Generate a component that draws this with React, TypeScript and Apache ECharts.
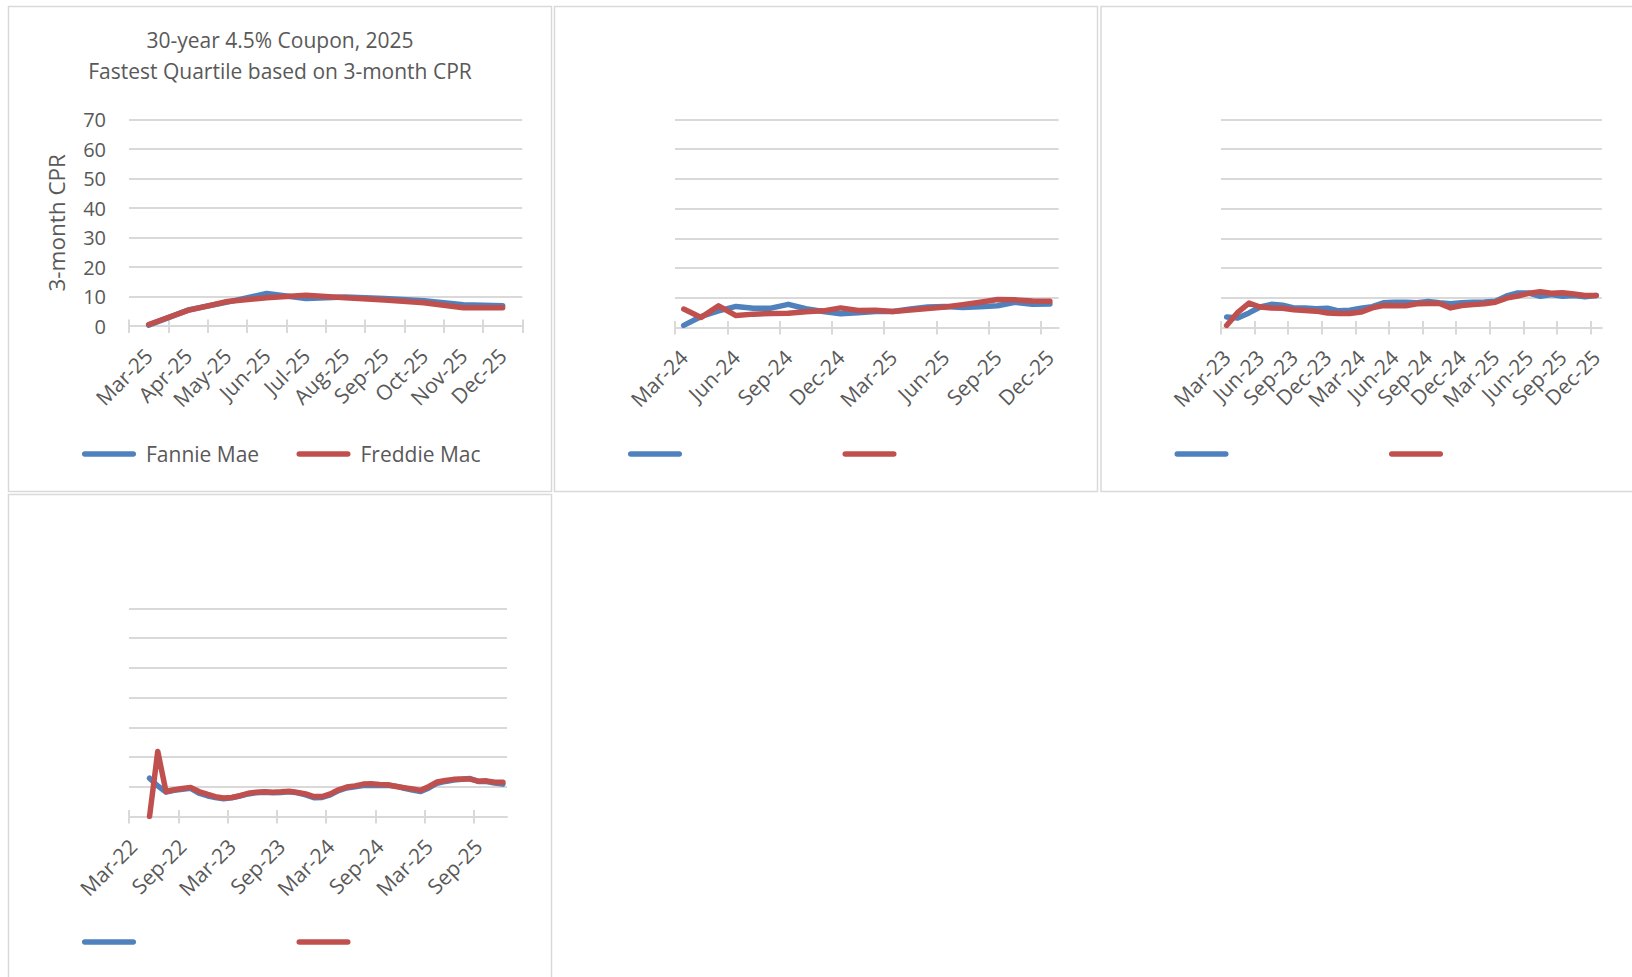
import React, { useEffect, useRef } from 'react';
import * as echarts from 'echarts';

// Month labels, Mar-22 through Dec-25
const MONTHS = [
  'Mar-22', 'Apr-22', 'May-22', 'Jun-22', 'Jul-22', 'Aug-22', 'Sep-22', 'Oct-22', 'Nov-22', 'Dec-22',
  'Jan-23', 'Feb-23', 'Mar-23', 'Apr-23', 'May-23', 'Jun-23', 'Jul-23', 'Aug-23', 'Sep-23', 'Oct-23', 'Nov-23', 'Dec-23',
  'Jan-24', 'Feb-24', 'Mar-24', 'Apr-24', 'May-24', 'Jun-24', 'Jul-24', 'Aug-24', 'Sep-24', 'Oct-24', 'Nov-24', 'Dec-24',
  'Jan-25', 'Feb-25', 'Mar-25', 'Apr-25', 'May-25', 'Jun-25', 'Jul-25', 'Aug-25', 'Sep-25', 'Oct-25', 'Nov-25', 'Dec-25',
];

// Vintage 2025 (Mar-25 .. Dec-25)
const cats2025 = MONTHS.slice(36);
const fannie2025 = [0.3, 5.4, 8.1, 11.0, 9.3, 9.8, 9.3, 8.6, 7.2, 6.9];
const freddie2025 = [0.5, 5.3, 8.3, 9.6, 10.4, 9.6, 8.8, 7.9, 6.2, 6.2];

// Vintage 2024 (Mar-24 .. Dec-25)
const cats2024 = MONTHS.slice(24);
const fannie2024 = [0.7, 3.7, 5.6, 7.1, 6.5, 6.5, 7.8, 6.3, 5.4, 4.6, 5.0, 5.4, 5.4, 6.2, 6.9, 7.1, 6.7, 7.0, 7.3, 8.5, 7.8, 7.9];
const freddie2024 = [6.2, 3.4, 7.3, 4.0, 4.5, 4.7, 4.8, 5.3, 5.6, 6.6, 5.7, 5.8, 5.4, 5.9, 6.4, 6.9, 7.7, 8.5, 9.4, 9.3, 8.9, 8.8];

// Vintage 2023 (Mar-23 .. Dec-25)
const cats2023 = MONTHS.slice(12);
const fannie2023 = [3.5, 3.2, 4.9, 6.9, 7.8, 7.5, 6.6, 6.6, 6.3, 6.5, 5.6, 5.8, 6.5, 7.0, 8.3, 8.5, 8.5, 8.3, 8.8, 8.3, 8.0, 8.3, 8.5, 8.6, 8.8, 10.6, 11.6, 11.6, 10.5, 11.1, 10.5, 10.8, 10.3, 10.8];
const freddie2023 = [0.7, 5.1, 8.2, 6.9, 6.6, 6.5, 6.0, 5.7, 5.5, 4.9, 4.7, 4.7, 5.2, 6.6, 7.4, 7.3, 7.3, 8.0, 8.1, 8.1, 6.6, 7.4, 7.7, 8.0, 8.5, 9.9, 10.6, 11.5, 12.0, 11.5, 11.7, 11.3, 10.8, 10.8];

// Vintage 2022 (Mar-22 .. Dec-25)
const cats2022 = MONTHS;
const fannie2022 = [null, null, 12.9, 10.3, 8.2, 8.8, 9.2, 9.5, 7.9, 7.0, 6.4, 6.0, 6.3, 6.9, 7.6, 8.0, 8.2, 8.0, 8.1, 8.3, 8.0, 7.3, 6.3, 6.4, 7.3, 8.7, 9.6, 10.0, 10.4, 10.5, 10.4, 10.5, 10.2, 9.5, 8.9, 8.4, 9.6, 11.2, 11.8, 12.3, 12.5, 12.8, 11.8, 11.8, 11.3, 10.9];
const freddie2022 = [null, null, 0, 21.9, 8.4, 9.0, 9.4, 9.8, 8.4, 7.5, 6.7, 6.2, 6.4, 7.0, 7.8, 8.2, 8.3, 8.2, 8.3, 8.5, 8.1, 7.6, 6.7, 6.7, 7.6, 9.0, 9.9, 10.3, 10.9, 11.0, 10.8, 10.7, 10.1, 9.7, 9.3, 8.8, 10.1, 11.6, 12.1, 12.5, 12.6, 12.6, 11.9, 12.0, 11.5, 11.5];

const SERIES_NAMES = ['Fannie Mae', 'Freddie Mac'];
const TITLE_LINES = ['30-year 4.5% Coupon, 2025', 'Fastest Quartile based on 3-month CPR'];
const Y_NAME = '3-month CPR';

const FONT = "'Open Sans', sans-serif";
const TEXT = '#595959';
const RULE = '#d9d9d9';
const BLUE = '#4f81bd';
const RED = '#c0504d';
const CAPSULE = 'path://M2.75,0H51.25A2.75,2.75,0,0,1,51.25,5.5H2.75A2.75,2.75,0,0,1,2.75,0Z';

type Panel = {
  x: number; y: number;
  grid: { left: number; top: number; width: number; height: number };
  cats: string[]; fannie: (number | null)[]; freddie: (number | null)[];
  step: number; endTick: boolean; labelled: boolean;
};

const PANELS: Panel[] = [
  { x: 8.5, y: 6.5, grid: { left: 129, top: 119.5, width: 393.3, height: 206.5 }, cats: cats2025, fannie: fannie2025, freddie: freddie2025, step: 1, endTick: true, labelled: true },
  { x: 554.5, y: 6.5, grid: { left: 675, top: 119.5, width: 383.6, height: 208 }, cats: cats2024, fannie: fannie2024, freddie: freddie2024, step: 3, endTick: false, labelled: false },
  { x: 1101, y: 6.5, grid: { left: 1221, top: 119.5, width: 380.8, height: 208 }, cats: cats2023, fannie: fannie2023, freddie: freddie2023, step: 3, endTick: false, labelled: false },
  { x: 8.5, y: 494.5, grid: { left: 129, top: 608.5, width: 378, height: 208 }, cats: cats2022, fannie: fannie2022, freddie: freddie2022, step: 6, endTick: false, labelled: false },
];

// boundary positions (in category units) where tick marks cross the axis
function tickStops(p: Panel): number[] {
  const out: number[] = [];
  for (let i = 0; i < p.cats.length; i += p.step) out.push(i);
  if (p.endTick) out.push(p.cats.length);
  return out;
}

function buildOption() {
  const grid: any[] = [];
  const xAxis: any[] = [];
  const yAxis: any[] = [];
  const series: any[] = [];
  const legend: any[] = [];
  const graphic: any[] = [];

  PANELS.forEach((p, k) => {
    graphic.push({
      type: 'rect', silent: true, z: -10,
      shape: { x: p.x, y: p.y, width: 543, height: 485 },
      style: { fill: '#ffffff', stroke: RULE, lineWidth: 1.5 },
    });
    grid.push({ ...p.grid, containLabel: false });
    const stops = tickStops(p);
    // category axis: line and rotated month labels
    xAxis.push({
      type: 'category', gridIndex: k, data: p.cats, boundaryGap: true, position: 'bottom',
      axisLine: { lineStyle: { color: RULE, width: 2 } },
      axisTick: { show: false },
      axisLabel: { interval: p.step - 1, rotate: 45, margin: 26, fontSize: 21, color: TEXT, fontFamily: FONT },
      splitLine: { show: false },
    });
    // value overlays on the same extent carry the crossing tick marks
    [false, true].forEach((inside) => {
      xAxis.push({
        type: 'value', gridIndex: k, min: 0, max: p.cats.length, position: 'bottom',
        axisLine: { show: false },
        axisTick: { show: true, inside, customValues: stops, length: inside ? 6.5 : 7, lineStyle: { color: RULE, width: 2 } },
        axisLabel: { show: false },
        splitLine: { show: false },
      });
    });
    yAxis.push({
      type: 'value', gridIndex: k, min: 0, max: 70, interval: 10,
      name: p.labelled ? Y_NAME : '', nameLocation: 'middle', nameRotate: 90, nameGap: 61,
      nameTextStyle: { fontSize: 22.5, color: TEXT, fontFamily: FONT },
      axisLine: { show: false }, axisTick: { show: false },
      axisLabel: { show: p.labelled, fontSize: 20, color: TEXT, fontFamily: FONT, margin: 23 },
      splitLine: { lineStyle: { color: RULE, width: 2 } },
    });
    series.push({
      type: 'line', name: SERIES_NAMES[0], xAxisIndex: 3 * k, yAxisIndex: k, data: p.fannie,
      symbol: 'none', z: 3, lineStyle: { color: BLUE, width: 5.5, cap: 'round', join: 'round' },
      itemStyle: { color: BLUE },
    });
    series.push({
      type: 'line', name: SERIES_NAMES[1], xAxisIndex: 3 * k, yAxisIndex: k, data: p.freddie,
      symbol: 'none', z: 4, lineStyle: { color: RED, width: 5.5, cap: 'round', join: 'round' },
      itemStyle: { color: RED },
    });
    const legendMid = p.y + 447.5;
    [0, 1].forEach((j) => {
      legend.push({
        data: [SERIES_NAMES[j]],
        left: p.x + (j === 0 ? 73.5 : 288),
        top: p.labelled ? legendMid - 10.5 : legendMid - 2.75,
        icon: CAPSULE, itemWidth: 54, itemHeight: 5.5, itemGap: 0,
        selectedMode: false,
        formatter: p.labelled ? '{name}' : () => '',
        textStyle: { fontSize: 21, color: TEXT, fontFamily: FONT, lineHeight: 21, padding: [0, 0, 0, 5] },
        padding: 0,
      });
    });
  });

  return {
    animation: false,
    backgroundColor: '#ffffff',
    title: {
      text: TITLE_LINES.join('\n'),
      left: 275, top: 19, textAlign: 'center',
      textStyle: { fontSize: 21, fontWeight: 'normal', color: TEXT, fontFamily: FONT, lineHeight: 31 },
    },
    graphic,
    grid,
    xAxis,
    yAxis,
    legend,
    series,
  };
}

export default function App() {
  const ref = useRef<HTMLDivElement>(null);
  useEffect(() => {
    if (!ref.current) return;
    const chart = echarts.init(ref.current, undefined, { renderer: 'svg' });
    chart.setOption(buildOption());
    return () => chart.dispose();
  }, []);
  return (
    <div
      ref={ref}
      style={{ position: 'fixed', left: 0, top: 0, width: 1632, height: 977, background: '#ffffff' }}
    />
  );
}
